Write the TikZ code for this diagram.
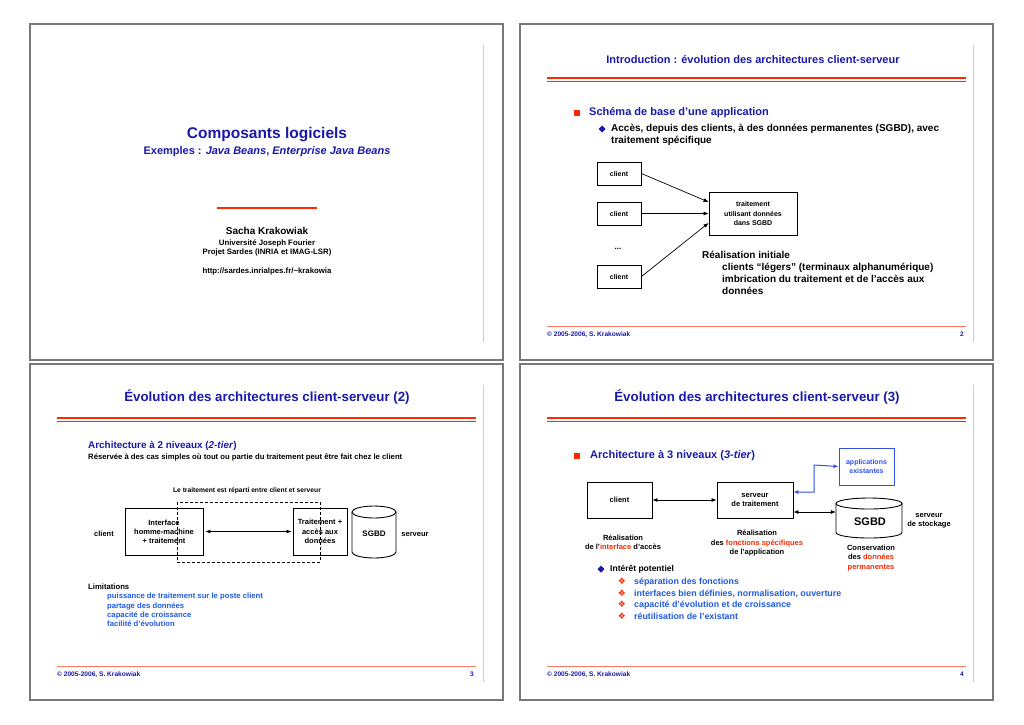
\documentclass[tikz,border=0pt]{standalone}
\usepackage{fontspec}
\setmainfont{Liberation Sans}
\newfontfamily\dejavu{DejaVu Sans}
\usetikzlibrary{arrows.meta}
\definecolor{tblue}{RGB}{25,25,170}
\definecolor{iblue}{RGB}{30,90,225}
\definecolor{abox}{RGB}{50,80,230}
\definecolor{sred}{RGB}{255,40,0}
\definecolor{fred}{RGB}{255,120,100}
\definecolor{framegray}{RGB}{120,120,120}
\definecolor{innergray}{RGB}{205,205,205}
\newcommand{\fz}[2]{\fontsize{#1}{#2}\selectfont\bfseries}
\tikzset{
  tl/.style={inner sep=0pt, anchor=mid west},
  tc/.style={inner sep=0pt, anchor=mid},
  framebox/.style={draw=framegray, line width=1.4pt},
  innerline/.style={draw=innergray, line width=0.8pt},
  boxn/.style={draw, line width=0.9pt, inner sep=0pt, align=center},
  arr/.style={-{Latex[length=5pt,width=4pt]}, line width=0.7pt},
  darr/.style={{Latex[length=5pt,width=4pt]}-{Latex[length=5pt,width=4pt]}, line width=0.7pt},
  hdr/.style={draw=sred, line width=2pt},
  hdrthin/.style={draw=sred, line width=0.7pt},
  footline/.style={draw=fred, line width=0.7pt},
  foot/.style={tl, font=\fz{6.6}{7}, text=tblue},
}
\begin{document}
\begin{tikzpicture}[x=1pt,y=-1pt]
\useasboundingbox (0,0) rectangle (1024,724);
\fill[white] (0,0) rectangle (1024,724);

% frames
\foreach \fx/\fy in {30/24, 520/24, 30/364, 520/364} {
  \draw[framebox] (\fx,\fy) rectangle ++(473,336);
  \draw[innerline] (\fx+453,\fy+21) -- ++(0,297);
}
% headers and footers of slides 2,3,4
\foreach \fx/\fy/\n in {520/24/2, 30/364/3, 520/364/4} {
  \draw[hdr] (\fx+27,\fy+54.3) -- (\fx+446,\fy+54.3);
  \draw[hdrthin] (\fx+27,\fy+57.8) -- (\fx+446,\fy+57.8);
  \draw[footline] (\fx+27,\fy+302) -- (\fx+446,\fy+302);
  \node[foot] at (\fx+27,\fy+310) {© 2005-2006, S. Krakowiak};
  \node[tc, font=\fz{6.6}{7}, text=tblue] at (\fx+442,\fy+310) {\n};
}

% ---------------- slide 1
\node[tc, font=\fz{15.5}{18}, text=tblue] (s1t) at (267,136) {Composants logiciels};
\node[tc, font=\fz{11}{13}, text=tblue] (s1s) at (267,152) {Exemples : \textit{Java Beans}, \textit{Enterprise Java Beans}};
\draw[draw=sred, line width=2pt] (217,208) -- (317,208);
\node[tc, font=\fz{10}{12}] (s1a) at (267,232) {Sacha Krakowiak};
\node[tc, font=\fz{7.8}{9}] (s1b) at (267,243) {Université Joseph Fourier};
\node[tc, font=\fz{7.8}{9}] (s1c) at (267,252) {Projet Sardes (INRIA et IMAG-LSR)};
\node[tc, font=\fz{7.8}{9}] (s1d) at (267,271) {http://sardes.inrialpes.fr/\textasciitilde krakowia};

% ---------------- slide 2
\node[tc, font=\fz{11}{12}, text=tblue] (s2t) at (753,61) {Introduction : évolution des architectures client-serveur};
\fill[sred] (574,110) rectangle (580,116);
\node[tl, font=\fz{11}{13}, text=tblue] (s2b1) at (589,113) {Schéma de base d’une application};
\fill[tblue] (602,125.5) -- (605.5,129) -- (602,132.5) -- (598.5,129) -- cycle;
\node[tl, font=\fz{10}{11}] (s2b2) at (611,129) {Accès, depuis des clients, à des données permanentes (SGBD), avec};
\node[tl, font=\fz{10}{11}] (s2b3) at (611,141) {traitement spécifique};
\node[boxn, minimum width=44pt, minimum height=23pt, font=\fz{7}{8}] (c1) at (619,173.5) {client};
\node[boxn, minimum width=44pt, minimum height=23pt, font=\fz{7}{8}] (c2) at (619,213.5) {client};
\node[boxn, minimum width=44pt, minimum height=23pt, font=\fz{7}{8}] (c3) at (619,276.5) {client};
\node[tc, font=\fz{8}{9}] (dots) at (618,247) {...};
\node[boxn, minimum width=88pt, minimum height=43pt, font=\fz{7}{9.5}] (tr) at (753,213.5) {traitement\\utilisant données\\dans SGBD};
\draw[arr] (c1.east) -- ([yshift=11.5pt]tr.west);
\draw[arr] (c2.east) -- (tr.west);
\draw[arr] (c3.east) -- ([yshift=-9.5pt]tr.west);
\node[tl, font=\fz{10}{11}] (r1) at (702,256) {Réalisation initiale};
\node[tl, font=\fz{10}{11}] (r2) at (722,268) {clients “légers” (terminaux alphanumérique)};
\node[tl, font=\fz{10}{11}] (r3) at (722,280) {imbrication du traitement et de l’accès aux};
\node[tl, font=\fz{10}{11}] (r4) at (722,292) {données};

% ---------------- slide 3
\node[tc, font=\fz{13.3}{15}, text=tblue] (s3t) at (267,399) {Évolution des architectures client-serveur (2)};
\node[tl, font=\fz{9.9}{11}, text=tblue] (s3a) at (88,446) {Architecture à 2 niveaux (\textit{2-tier})};
\node[tl, font=\fz{7.7}{9}] (s3b) at (88,457) {Réservée à des cas simples où tout ou partie du traitement peut être fait chez le client};
\node[tc, font=\fz{6.7}{8}] (s3c) at (247,490) {Le traitement est réparti entre client et serveur};
\node[boxn, minimum width=78pt, minimum height=47pt, font=\fz{7.5}{9}] (ihm) at (164,531.5) {Interface\\homme-machine\\+ traitement};
\node[boxn, minimum width=54pt, minimum height=47pt, font=\fz{7.5}{9.5}] (trt) at (320,531.5) {Traitement +\\accès aux\\données};
\draw[dashed, dash pattern=on 3pt off 2pt, line width=0.8pt] (177,502) rectangle (320,562);
\draw[darr] ([xshift=2pt]ihm.east) -- ([xshift=-1pt]trt.west);
% cylinder SGBD
\draw[line width=0.9pt, fill=white] (352,512) -- (352,552) arc[start angle=180, end angle=0, x radius=22, y radius=6] -- (396,512);
\draw[line width=0.9pt] (374,512) ellipse [x radius=22, y radius=6];
\node[tc, font=\fz{8}{9}] (sgbd3) at (374,534) {SGBD};
\node[tc, font=\fz{7.5}{9}] (cl3) at (104,534) {client};
\node[tc, font=\fz{7.5}{9}] (sv3) at (415,534) {serveur};
\node[tl, font=\fz{7.7}{9}] (lim) at (88,587) {Limitations};
\node[tl, font=\fz{7.7}{9}, text=iblue] (l1) at (107,596) {puissance de traitement sur le poste client};
\node[tl, font=\fz{7.7}{9}, text=iblue] (l2) at (107,606) {partage des données};
\node[tl, font=\fz{7.7}{9}, text=iblue] (l3) at (107,615) {capacité de croissance};
\node[tl, font=\fz{7.7}{9}, text=iblue] (l4) at (107,624) {facilité d’évolution};

% ---------------- slide 4
\node[tc, font=\fz{13.3}{15}, text=tblue] (s4t) at (757,399) {Évolution des architectures client-serveur (3)};
\fill[sred] (574,453) rectangle (580,459);
\node[tl, font=\fz{11}{12}, text=tblue] (s4a) at (590,456) {Architecture à 3 niveaux (\textit{3-tier})};
\node[boxn, minimum width=65pt, minimum height=36pt, font=\fz{7.5}{9}] (cli) at (619.5,500) {client};
\node[boxn, minimum width=76pt, minimum height=36pt, font=\fz{7.5}{9}] (srv) at (755,500) {serveur\\de traitement};
\node[boxn, draw=abox, line width=1pt, minimum width=55pt, minimum height=37pt, font=\fz{7}{9}, text=abox] (app) at (866.5,466.5) {applications\\existantes};
% cylinder SGBD
\draw[line width=0.9pt, fill=white] (836,503.5) -- (836,532.5) arc[start angle=180, end angle=0, x radius=33, y radius=5.5] -- (902,503.5);
\draw[line width=0.9pt] (869,503.5) ellipse [x radius=33, y radius=5.5];
\node[inner sep=0pt, minimum width=66pt, minimum height=40pt] (db4) at (869,518) {};
\node[tc, font=\fz{11}{12}] (sgbd4) at (870,523) {SGBD};
\node[tc, font=\fz{7.5}{9}] (st1) at (929,515) {serveur};
\node[tc, font=\fz{7.5}{9}] (st2) at (929,524) {de stockage};
\draw[darr] (cli.east) -- (srv.west);
\draw[darr] ([yshift=-12pt]srv.east) -- ([yshift=6pt]db4.west);
\draw[darr, draw=abox, line width=1pt] ([yshift=8pt]srv.east) -- (814,492) -- (814,465) -- (app.west);
\node[tc, font=\fz{7.5}{9}] (ra1) at (623,538) {Réalisation};
\node[tc, font=\fz{7.5}{9}] (ra2) at (623,547) {de l’\textcolor{sred}{interface} d’accès};
\node[tc, font=\fz{7.5}{9}] (rb1) at (757,533) {Réalisation};
\node[tc, font=\fz{7.5}{9}] (rb2) at (757,543) {des \textcolor{sred}{fonctions spécifiques}};
\node[tc, font=\fz{7.5}{9}] (rb3) at (757,552) {de l’application};
\node[tc, font=\fz{7.5}{9}] (rc1) at (871,548) {Conservation};
\node[tc, font=\fz{7.5}{9}] (rc2) at (871,557) {des \textcolor{sred}{données}};
\node[tc, font=\fz{7.5}{9}, text=sred] (rc3) at (871,567) {permanentes};
\fill[tblue] (601,565.5) -- (604.5,569) -- (601,572.5) -- (597.5,569) -- cycle;
\node[tl, font=\fz{8.5}{10}] (ip) at (610,569) {Intérêt potentiel};
\foreach \yy/\tt in {582/séparation des fonctions, 594/{interfaces bien définies, normalisation, ouverture}, 605/capacité d’évolution et de croissance, 617/réutilisation de l’existant} {
  \node[tc, font=\dejavu\fontsize{9}{10}\selectfont, text=sred] at (622,\yy) {❖};
  \node[tl, font=\fz{8.85}{10}, text=iblue] at (634,\yy) {\tt};
}
\end{tikzpicture}
\end{document}
